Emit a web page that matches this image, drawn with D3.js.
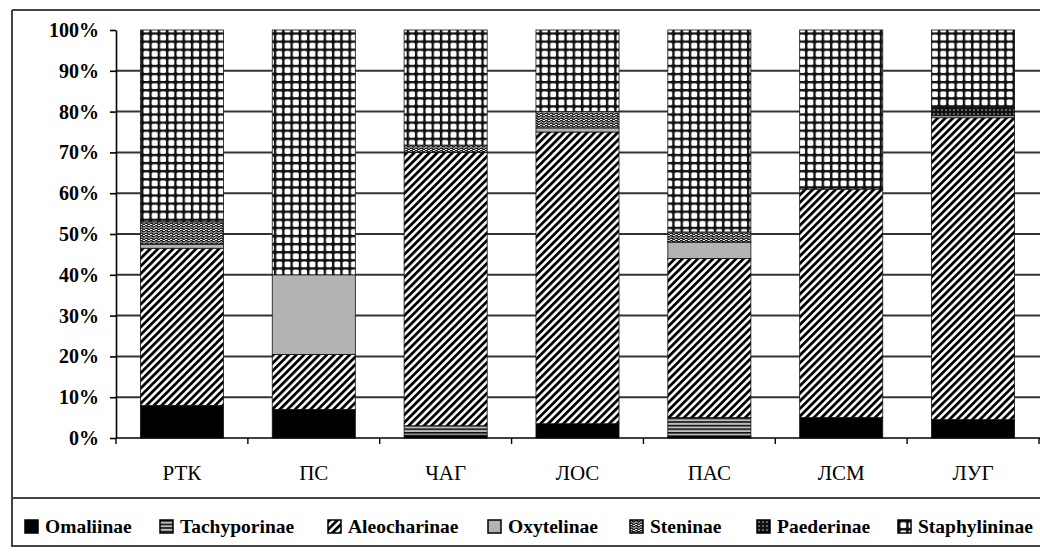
<!DOCTYPE html>
<html>
<head>
<meta charset="utf-8">
<script src="https://cdn.jsdelivr.net/npm/d3@7"></script>
<style>
  html, body { margin: 0; padding: 0; background: #fff; }
  svg { display: block; }
  svg text { font-family: "Liberation Serif", "Times New Roman", serif; }
</style>
</head>
<body>
<svg id="chart" width="1040" height="554"></svg>
<script>
// Sites (x categories)
const sites = ["РТК", "ПС", "ЧАГ", "ЛОС", "ПАС", "ЛСМ", "ЛУГ"];
// Subfamilies (stack order, bottom to top)
const subfamilies = ["Omaliinae", "Tachyporinae", "Aleocharinae", "Oxytelinae", "Steninae", "Paederinae", "Staphylininae"];
// Share of each subfamily per site, %
const omaliinae     = [8,    7,    0.7,  3.5,  0.5,  5,    4.5];
const tachyporinae  = [0,    0,    2.3,  0,    4.5,  0,    0];
const aleocharinae  = [38.5, 13.5, 67,   71.5, 39,   56,   74];
const oxytelinae    = [1,    19.5, 0,    1,    4,    0,    0.5];
const steninae      = [5.5,  0,    1.8,  4,    2.5,  0,    0];
const paederinae    = [0,    0,    0,    0,    0,    0,    2];
const staphylininae = [47,   60,   28.2, 20,   49.5, 39,   19];
const yTicks = [0, 10, 20, 30, 40, 50, 60, 70, 80, 90, 100];

const seriesValues = [omaliinae, tachyporinae, aleocharinae, oxytelinae, steninae, paederinae, staphylininae];
const rows = sites.map((s, i) => {
  const r = { site: s };
  subfamilies.forEach((f, j) => r[f] = seriesValues[j][i]);
  return r;
});

const FONT = '"Liberation Serif", "Times New Roman", serif';
const svg = d3.select("#chart");
const margin = { left: 116, right: 1039, top: 30, bottom: 438 };

const x = d3.scaleBand().domain(sites).range([margin.left, margin.right]).paddingInner(0.37).paddingOuter(0.185);
const y = d3.scaleLinear().domain([0, 100]).range([margin.bottom, margin.top]);

// Fill patterns
const defs = svg.append("defs");
const pat = (id, w, h, extra) => defs.append("pattern").attr("id", id)
  .attr("patternUnits", "userSpaceOnUse").attr("width", w).attr("height", h)
  .call(p => extra && p.attr("patternTransform", extra));

// horizontal lines
const pTach = pat("p-tach", 6, 3.6);
pTach.append("rect").attr("width", 6).attr("height", 3.6).attr("fill", "#bdbdbd");
pTach.append("rect").attr("y", 0).attr("width", 6).attr("height", 1.6).attr("fill", "#111");

// diagonal stripes
const pAleo = pat("p-aleo", 5.4, 10, "rotate(45)");
pAleo.append("rect").attr("width", 5.4).attr("height", 10).attr("fill", "#fff");
pAleo.append("rect").attr("width", 2.8).attr("height", 10).attr("fill", "#000");

// speckled texture
const pSten = pat("p-sten", 5, 5);
pSten.append("rect").attr("width", 5).attr("height", 5).attr("fill", "#fff");
pSten.append("path").attr("d", "M0,1.2 Q1.25,-0.2 2.5,1.2 T5,1.2 M0,3.7 Q1.25,2.3 2.5,3.7 T5,3.7")
  .attr("fill", "none").attr("stroke", "#111").attr("stroke-width", 1.5);

// dark with white dots
const pPaed = pat("p-paed", 4, 4);
pPaed.append("rect").attr("width", 4).attr("height", 4).attr("fill", "#111");
pPaed.append("circle").attr("cx", 2).attr("cy", 2).attr("r", 0.8).attr("fill", "#ccc");

// grid
const pStaph = pat("p-staph", 8.3, 8.1);
pStaph.append("rect").attr("width", 8.3).attr("height", 8.1).attr("fill", "#111");
pStaph.append("rect").attr("x", 2.3).attr("y", 2.3).attr("width", 6.0).attr("height", 5.8)
  .attr("rx", 1.4).attr("fill", "#fff");

const fills = {
  Omaliinae: "#000",
  Tachyporinae: "url(#p-tach)",
  Aleocharinae: "url(#p-aleo)",
  Oxytelinae: "#b3b3b3",
  Steninae: "url(#p-sten)",
  Paederinae: "url(#p-paed)",
  Staphylininae: "url(#p-staph)"
};

// Outer frame
const frame = svg.append("g").attr("stroke", "#444").attr("stroke-width", 2).attr("fill", "none");
frame.append("line").attr("x1", 12).attr("x2", 1040).attr("y1", 10).attr("y2", 10);
frame.append("line").attr("x1", 12).attr("x2", 12).attr("y1", 10).attr("y2", 547);
frame.append("line").attr("x1", 12).attr("x2", 1040).attr("y1", 498).attr("y2", 498);
frame.append("line").attr("x1", 12).attr("x2", 1040).attr("y1", 546).attr("y2", 546);

// Gridlines
svg.append("g").selectAll("line").data(yTicks.filter(t => t > 0 && t < 100)).join("line")
  .attr("x1", margin.left).attr("x2", 1040)
  .attr("y1", d => y(d)).attr("y2", d => y(d))
  .attr("stroke", "#333").attr("stroke-width", 2);

// Stacked bars
const stack = d3.stack().keys(subfamilies)(rows);
svg.append("g").selectAll("g").data(stack).join("g")
  .attr("fill", d => fills[d.key])
  .selectAll("rect").data(d => d.filter(s => s[1] - s[0] > 0)).join("rect")
  .attr("x", d => x(d.data.site))
  .attr("width", x.bandwidth())
  .attr("y", d => y(d[1]))
  .attr("height", d => y(d[0]) - y(d[1]))
  .attr("stroke", "#111").attr("stroke-width", 0.8);

// Y axis
const yAxis = svg.append("g").attr("transform", `translate(${margin.left},0)`)
  .call(d3.axisLeft(y).tickValues(yTicks).tickFormat(d => d + "%").tickSize(6).tickSizeOuter(0));
yAxis.attr("font-family", FONT);
yAxis.select(".domain").attr("stroke", "#000").attr("stroke-width", 1.6);
yAxis.selectAll(".tick line").attr("stroke", "#000").attr("stroke-width", 1.6);
yAxis.selectAll("text").attr("x", -17).attr("fill", "#000")
  .style("font-family", FONT)
  .style("font-weight", "bold").style("font-size", "20px");

// X axis with ticks between categories
const xAxis = svg.append("g").attr("transform", `translate(0,${margin.bottom})`);
xAxis.append("line").attr("x1", margin.left).attr("x2", 1040).attr("y1", 0).attr("y2", 0)
  .attr("stroke", "#000").attr("stroke-width", 1.6);
const step = x.step();
const bounds = d3.range(sites.length + 1).map(i => margin.left + i * step);
xAxis.selectAll(".xt").data(bounds).join("line").attr("class", "xt")
  .attr("x1", d => d).attr("x2", d => d).attr("y1", 0).attr("y2", 6)
  .attr("stroke", "#000").attr("stroke-width", 1.4);
xAxis.selectAll("text").data(sites).join("text")
  .attr("x", d => x(d) + x.bandwidth() / 2).attr("y", 42)
  .attr("text-anchor", "middle")
  .style("font-family", FONT)
  .style("font-size", "21px").attr("fill", "#000")
  .text(d => d);

// Legend
const legendX = [25, 160, 328, 488, 630, 757, 898];
const lg = svg.append("g").selectAll("g").data(subfamilies).join("g")
  .attr("transform", (d, i) => `translate(${legendX[i]},520)`);
lg.append("rect").attr("width", 13).attr("height", 13)
  .attr("fill", d => fills[d]).attr("stroke", "#000").attr("stroke-width", 1.5);
lg.append("text").attr("x", 20).attr("y", 13)
  .style("font-family", FONT)
  .style("font-weight", "bold").style("font-size", "19.5px").attr("fill", "#000")
  .text(d => d);
</script>
</body>
</html>
